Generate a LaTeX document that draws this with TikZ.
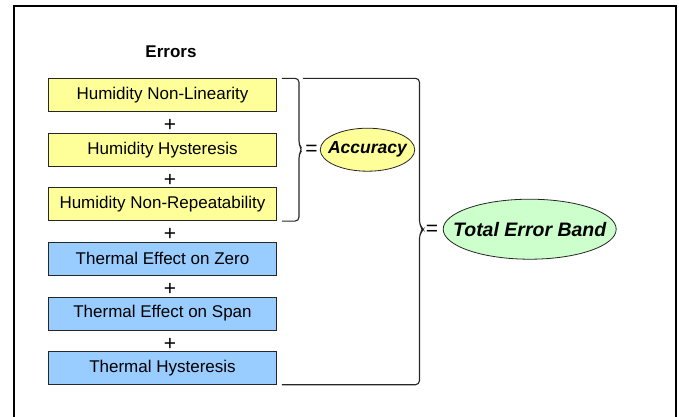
\documentclass[tikz,border=0pt]{standalone}
\usepackage{fontspec}
\setmainfont{Liberation Sans}
\usepackage{tikz}
\usepackage{xcolor}
\usetikzlibrary{shapes.geometric}

\definecolor{humyellow}{HTML}{FFFF99}
\definecolor{thermblue}{HTML}{99CCFF}
\definecolor{bandgreen}{HTML}{CCFFCC}

\begin{document}
\begin{tikzpicture}[x=1pt, y=-1pt,
    errbox/.style={rectangle, draw=black!85, line width=0.8pt, minimum width=228pt, minimum height=33pt, inner sep=0pt, font=\fontsize{17}{20}\selectfont},
    plus/.style={inner sep=0pt, font=\fontsize{21}{22}\selectfont},
    equal/.style={inner sep=0pt, font=\fontsize{21}{22}\selectfont},
    result/.style={ellipse, draw=black!85, line width=0.8pt, inner ysep=0pt},
    bracket/.style={draw=black!85, line width=1.1pt, rounded corners=4pt}]

                    \useasboundingbox (0,0) rectangle (679,416);

                    % Frame
                    \draw[line width=2pt] (14,420) -- (14,6) -- (676,6) -- (676,420);

                    % Heading
                    \node[font=\bfseries\fontsize{17}{20}\selectfont] (head) at (171,52) {Errors};

                    % Error boxes
                    \node[errbox, fill=humyellow] (e1) at (162.5,95.2) {Humidity Non-Linearity};
                    \node[errbox, fill=humyellow] (e2) at (162.5,149.8) {Humidity Hysteresis};
                    \node[errbox, fill=humyellow] (e3) at (162.5,204.2) {Humidity Non-Repeatability};
                    \node[errbox, fill=thermblue] (e4) at (162.5,258.8) {Thermal Effect on Zero};
                    \node[errbox, fill=thermblue] (e5) at (162.5,313.4) {Thermal Effect on Span};
                    \node[errbox, fill=thermblue] (e6) at (162.5,367.8) {Thermal Hysteresis};

                    % Plus signs
                    \node[plus] (p1) at (170,125.3) {+};
                    \node[plus] (p2) at (170,180.3) {+};
                    \node[plus] (p3) at (170,234.7) {+};
                    \node[plus] (p4) at (170,289) {+};
                    \node[plus] (p5) at (170,344) {+};

                    % Results
                    \node[equal] (eq1) at (311.5,150) {=};
                    \node[result, fill=humyellow, inner xsep=-6pt, minimum width=94pt, minimum height=43pt, font=\bfseries\itshape\fontsize{17.5}{20}\selectfont] (acc) at (367.5,149.7) {Accuracy};
                    \node[equal] (eq2) at (432,230) {=};
                    \node[result, fill=bandgreen, inner xsep=-16pt, minimum width=173pt, minimum height=60pt, font=\bfseries\itshape\fontsize{19.5}{22}\selectfont] (teb) at (529.7,229.2) {Total Error Band};

                    % Braces
                    \draw[bracket] ([xshift=5pt]e1.north east) -| (299,145) -- (302.5,149.5) -- (299,154) |- ([xshift=5pt]e3.south east);
                    \draw[bracket] ([xshift=26pt]e1.north east) -| (419.5,225) -- (423.5,229.5) -- (419.5,234) |- ([xshift=5pt]e6.south east);

                \end{tikzpicture}
\end{document}
